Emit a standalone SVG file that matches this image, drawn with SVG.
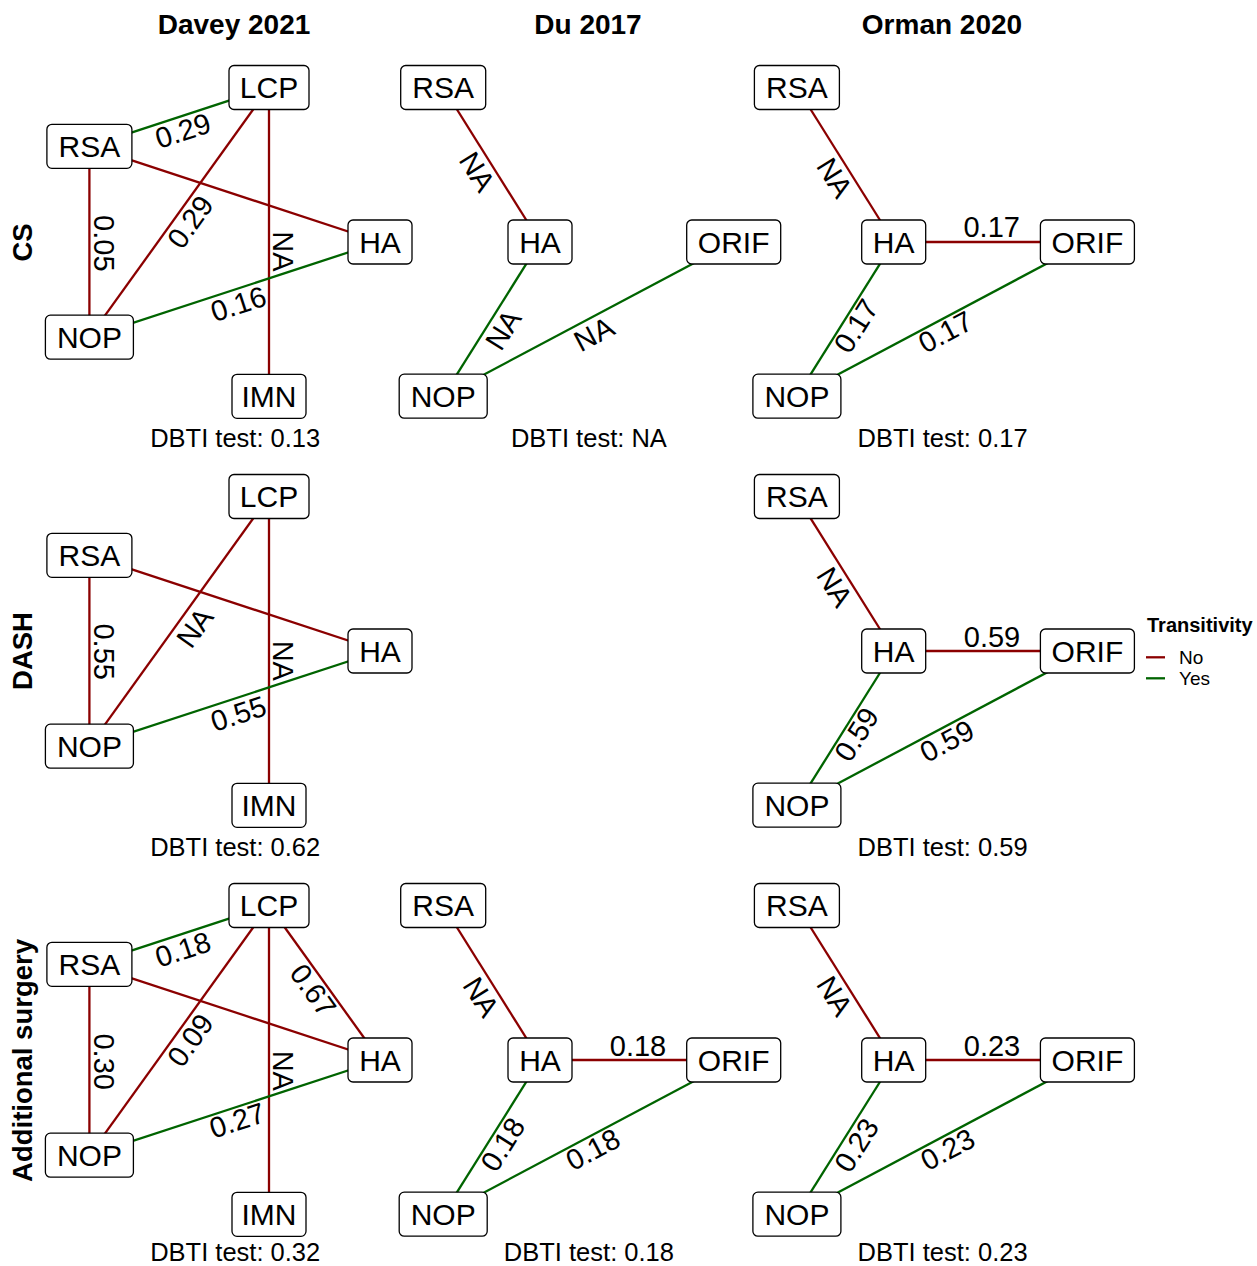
<svg xmlns="http://www.w3.org/2000/svg" width="1257" height="1266" viewBox="0 0 1257 1266">
<style>
text{font-family:"Liberation Sans",Arial,Helvetica,sans-serif;fill:#000}
.title{font-size:28px;font-weight:bold;text-anchor:middle}
.row{font-size:27.5px;font-weight:bold;text-anchor:middle}
.nl{font-size:30px;text-anchor:middle}
.el{font-size:29px;text-anchor:middle}
.db{font-size:25.5px;text-anchor:middle}
.box{fill:#fff;stroke:#000;stroke-width:1.3}
.no{stroke:#8B0000;stroke-width:2.3;fill:none}
.yes{stroke:#006400;stroke-width:2.3;fill:none}
.lt{font-size:20px;font-weight:bold}
.li{font-size:19px}
</style>
<rect x="0" y="0" width="1257" height="1266" fill="#fff"/>

<g id="titles">
<text class="title" x="234" y="34">Davey 2021</text>
<text class="title" x="588" y="34">Du 2017</text>
<text class="title" x="942" y="34">Orman 2020</text>
<text class="row" transform="translate(31.5,242.5) rotate(-90)">CS</text>
<text class="row" transform="translate(31.5,651) rotate(-90)">DASH</text>
<text class="row" transform="translate(31.5,1060.5) rotate(-90)">Additional surgery</text>
</g>

<g id="connectors">
<g id="edges-davey-cs" transform="translate(0,0)">
<line class="yes" x1="89.4" y1="146.3" x2="269" y2="87.5"/>
<line class="no" x1="89.4" y1="146.3" x2="380" y2="242"/>
<line class="no" x1="89.4" y1="146.3" x2="89.4" y2="337.2"/>
<line class="no" x1="269" y1="87.5" x2="89.4" y2="337.2"/>
<line class="no" x1="269" y1="87.5" x2="269" y2="396.3"/>
<line class="yes" x1="89.4" y1="337.2" x2="380" y2="242"/>
<text class="el" transform="translate(182.8,130.3) rotate(-18.1)" y="10.4">0.29</text>
<text class="el" transform="translate(190,221.7) rotate(-54.3)" y="10.4">0.29</text>
<text class="el" transform="translate(104.2,243.3) rotate(90)" y="10.4">0.05</text>
<text class="el" transform="translate(283.5,251.5) rotate(90)" y="10.4">NA</text>
<text class="el" transform="translate(238.3,303.5) rotate(-18.1)" y="10.4">0.16</text>
</g>
<g id="edges-davey-dash" transform="translate(0,409)">
<line class="no" x1="89.4" y1="146.3" x2="380" y2="242"/>
<line class="no" x1="89.4" y1="146.3" x2="89.4" y2="337.2"/>
<line class="no" x1="269" y1="87.5" x2="89.4" y2="337.2"/>
<line class="no" x1="269" y1="87.5" x2="269" y2="396.3"/>
<line class="yes" x1="89.4" y1="337.2" x2="380" y2="242"/>
<text class="el" transform="translate(104.2,242.7) rotate(90)" y="10.4">0.55</text>
<text class="el" transform="translate(194.5,218.5) rotate(-54.3)" y="10.4">NA</text>
<text class="el" transform="translate(283.8,251.8) rotate(90)" y="10.4">NA</text>
<text class="el" transform="translate(238.3,304.3) rotate(-18.1)" y="10.4">0.55</text>
</g>
<g id="edges-davey-as" transform="translate(0,818)">
<line class="yes" x1="89.4" y1="146.3" x2="269" y2="87.5"/>
<line class="no" x1="269" y1="87.5" x2="380" y2="242"/>
<line class="no" x1="89.4" y1="146.3" x2="380" y2="242"/>
<line class="no" x1="89.4" y1="146.3" x2="89.4" y2="337.2"/>
<line class="no" x1="269" y1="87.5" x2="89.4" y2="337.2"/>
<line class="no" x1="269" y1="87.5" x2="269" y2="396.3"/>
<line class="yes" x1="89.4" y1="337.2" x2="380" y2="242"/>
<text class="el" transform="translate(182.8,131.2) rotate(-18.1)" y="10.4">0.18</text>
<text class="el" transform="translate(313.3,172) rotate(54.3)" y="10.4">0.67</text>
<text class="el" transform="translate(190,222) rotate(-54.3)" y="10.4">0.09</text>
<text class="el" transform="translate(104.2,243.7) rotate(90)" y="10.4">0.30</text>
<text class="el" transform="translate(283.8,252.8) rotate(90)" y="10.4">NA</text>
<text class="el" transform="translate(237,302) rotate(-18.1)" y="10.4">0.27</text>
</g>
<g id="edges-du-cs" transform="translate(353.7,0)">
<line class="no" x1="89.5" y1="87.5" x2="186.3" y2="242"/>
<line class="yes" x1="186.3" y1="242" x2="89.5" y2="396.2"/>
<line class="yes" x1="89.5" y1="396.2" x2="380" y2="242"/>
<text class="el" transform="translate(123.8,171.5) rotate(57.9)" y="10.4">NA</text>
<text class="el" transform="translate(149.3,329.7) rotate(-57.9)" y="10.4">NA</text>
<text class="el" transform="translate(240.1,333.8) rotate(-27.9)" y="10.4">NA</text>
</g>
<g id="edges-du-as" transform="translate(353.7,818)">
<line class="no" x1="89.5" y1="87.5" x2="186.3" y2="242"/>
<line class="no" x1="186.3" y1="242" x2="380" y2="242"/>
<line class="yes" x1="186.3" y1="242" x2="89.5" y2="396.2"/>
<line class="yes" x1="89.5" y1="396.2" x2="380" y2="242"/>
<text class="el" transform="translate(127.6,178.7) rotate(57.9)" y="10.4">NA</text>
<text class="el" transform="translate(284.3,227.8)" y="10.4">0.18</text>
<text class="el" transform="translate(148.8,326.2) rotate(-57.9)" y="10.4">0.18</text>
<text class="el" transform="translate(239.1,331.2) rotate(-27.9)" y="10.4">0.18</text>
</g>
<g id="edges-orman-cs" transform="translate(707.4,0)">
<line class="no" x1="89.5" y1="87.5" x2="186.3" y2="242"/>
<line class="no" x1="186.3" y1="242" x2="380" y2="242"/>
<line class="yes" x1="186.3" y1="242" x2="89.5" y2="396.2"/>
<line class="yes" x1="89.5" y1="396.2" x2="380" y2="242"/>
<text class="el" transform="translate(127.6,177.5) rotate(57.9)" y="10.4">NA</text>
<text class="el" transform="translate(284.3,227)" y="10.4">0.17</text>
<text class="el" transform="translate(148.4,325.8) rotate(-57.9)" y="10.4">0.17</text>
<text class="el" transform="translate(237.9,331.7) rotate(-27.9)" y="10.4">0.17</text>
</g>
<g id="edges-orman-dash" transform="translate(707.4,409)">
<line class="no" x1="89.5" y1="87.5" x2="186.3" y2="242"/>
<line class="no" x1="186.3" y1="242" x2="380" y2="242"/>
<line class="yes" x1="186.3" y1="242" x2="89.5" y2="396.2"/>
<line class="yes" x1="89.5" y1="396.2" x2="380" y2="242"/>
<text class="el" transform="translate(127.6,177.7) rotate(57.9)" y="10.4">NA</text>
<text class="el" transform="translate(284.6,227.2)" y="10.4">0.59</text>
<text class="el" transform="translate(148.9,325.2) rotate(-57.9)" y="10.4">0.59</text>
<text class="el" transform="translate(239.3,331.8) rotate(-27.9)" y="10.4">0.59</text>
</g>
<g id="edges-orman-as" transform="translate(707.4,818)">
<line class="no" x1="89.5" y1="87.5" x2="186.3" y2="242"/>
<line class="no" x1="186.3" y1="242" x2="380" y2="242"/>
<line class="yes" x1="186.3" y1="242" x2="89.5" y2="396.2"/>
<line class="yes" x1="89.5" y1="396.2" x2="380" y2="242"/>
<text class="el" transform="translate(127.6,177.8) rotate(57.9)" y="10.4">NA</text>
<text class="el" transform="translate(284.6,227.8)" y="10.4">0.23</text>
<text class="el" transform="translate(148.9,327) rotate(-57.9)" y="10.4">0.23</text>
<text class="el" transform="translate(240.1,331.2) rotate(-27.9)" y="10.4">0.23</text>
</g>
</g>

<g id="nodes">
<g id="panel-davey-cs" transform="translate(0,0)">
<g id="dcs-LCP"><rect class="box" x="229" y="65.5" width="80" height="44" rx="5"/><text class="nl" x="269" y="98.2">LCP</text></g>
<g id="dcs-RSA"><rect class="box" x="46.9" y="124.3" width="85" height="44" rx="5"/><text class="nl" x="89.4" y="157">RSA</text></g>
<g id="dcs-HA"><rect class="box" x="348" y="220" width="64" height="44" rx="5"/><text class="nl" x="380" y="252.7">HA</text></g>
<g id="dcs-NOP"><rect class="box" x="45.4" y="315.2" width="88" height="44" rx="5"/><text class="nl" x="89.4" y="347.9">NOP</text></g>
<g id="dcs-IMN"><rect class="box" x="232" y="374.3" width="74" height="44" rx="5"/><text class="nl" x="269" y="407">IMN</text></g>
<text class="db" x="235.2" y="446.5">DBTI test: 0.13</text>
</g>
<g id="panel-davey-dash" transform="translate(0,409)">
<g id="dd-LCP"><rect class="box" x="229" y="65.5" width="80" height="44" rx="5"/><text class="nl" x="269" y="98.2">LCP</text></g>
<g id="dd-RSA"><rect class="box" x="46.9" y="124.3" width="85" height="44" rx="5"/><text class="nl" x="89.4" y="157">RSA</text></g>
<g id="dd-HA"><rect class="box" x="348" y="220" width="64" height="44" rx="5"/><text class="nl" x="380" y="252.7">HA</text></g>
<g id="dd-NOP"><rect class="box" x="45.4" y="315.2" width="88" height="44" rx="5"/><text class="nl" x="89.4" y="347.9">NOP</text></g>
<g id="dd-IMN"><rect class="box" x="232" y="374.3" width="74" height="44" rx="5"/><text class="nl" x="269" y="407">IMN</text></g>
<text class="db" x="235.2" y="446.5">DBTI test: 0.62</text>
</g>
<g id="panel-davey-as" transform="translate(0,818)">
<g id="das-LCP"><rect class="box" x="229" y="65.5" width="80" height="44" rx="5"/><text class="nl" x="269" y="98.2">LCP</text></g>
<g id="das-RSA"><rect class="box" x="46.9" y="124.3" width="85" height="44" rx="5"/><text class="nl" x="89.4" y="157">RSA</text></g>
<g id="das-HA"><rect class="box" x="348" y="220" width="64" height="44" rx="5"/><text class="nl" x="380" y="252.7">HA</text></g>
<g id="das-NOP"><rect class="box" x="45.4" y="315.2" width="88" height="44" rx="5"/><text class="nl" x="89.4" y="347.9">NOP</text></g>
<g id="das-IMN"><rect class="box" x="232" y="374.3" width="74" height="44" rx="5"/><text class="nl" x="269" y="407">IMN</text></g>
<text class="db" x="235.2" y="442.5">DBTI test: 0.32</text>
</g>
<g id="panel-du-cs" transform="translate(353.7,0)">
<g id="ducs-RSA"><rect class="box" x="47" y="65.5" width="85" height="44" rx="5"/><text class="nl" x="89.5" y="98.2">RSA</text></g>
<g id="ducs-HA"><rect class="box" x="154.3" y="220" width="64" height="44" rx="5"/><text class="nl" x="186.3" y="252.7">HA</text></g>
<g id="ducs-ORIF"><rect class="box" x="333" y="220" width="94" height="44" rx="5"/><text class="nl" x="380" y="252.7">ORIF</text></g>
<g id="ducs-NOP"><rect class="box" x="45.5" y="374.2" width="88" height="44" rx="5"/><text class="nl" x="89.5" y="406.9">NOP</text></g>
<text class="db" x="235.2" y="446.5">DBTI test: NA</text>
</g>
<g id="panel-du-as" transform="translate(353.7,818)">
<g id="duas-RSA"><rect class="box" x="47" y="65.5" width="85" height="44" rx="5"/><text class="nl" x="89.5" y="98.2">RSA</text></g>
<g id="duas-HA"><rect class="box" x="154.3" y="220" width="64" height="44" rx="5"/><text class="nl" x="186.3" y="252.7">HA</text></g>
<g id="duas-ORIF"><rect class="box" x="333" y="220" width="94" height="44" rx="5"/><text class="nl" x="380" y="252.7">ORIF</text></g>
<g id="duas-NOP"><rect class="box" x="45.5" y="374.2" width="88" height="44" rx="5"/><text class="nl" x="89.5" y="406.9">NOP</text></g>
<text class="db" x="235.2" y="442.5">DBTI test: 0.18</text>
</g>
<g id="panel-orman-cs" transform="translate(707.4,0)">
<g id="ocs-RSA"><rect class="box" x="47" y="65.5" width="85" height="44" rx="5"/><text class="nl" x="89.5" y="98.2">RSA</text></g>
<g id="ocs-HA"><rect class="box" x="154.3" y="220" width="64" height="44" rx="5"/><text class="nl" x="186.3" y="252.7">HA</text></g>
<g id="ocs-ORIF"><rect class="box" x="333" y="220" width="94" height="44" rx="5"/><text class="nl" x="380" y="252.7">ORIF</text></g>
<g id="ocs-NOP"><rect class="box" x="45.5" y="374.2" width="88" height="44" rx="5"/><text class="nl" x="89.5" y="406.9">NOP</text></g>
<text class="db" x="235.2" y="446.5">DBTI test: 0.17</text>
</g>
<g id="panel-orman-dash" transform="translate(707.4,409)">
<g id="od-RSA"><rect class="box" x="47" y="65.5" width="85" height="44" rx="5"/><text class="nl" x="89.5" y="98.2">RSA</text></g>
<g id="od-HA"><rect class="box" x="154.3" y="220" width="64" height="44" rx="5"/><text class="nl" x="186.3" y="252.7">HA</text></g>
<g id="od-ORIF"><rect class="box" x="333" y="220" width="94" height="44" rx="5"/><text class="nl" x="380" y="252.7">ORIF</text></g>
<g id="od-NOP"><rect class="box" x="45.5" y="374.2" width="88" height="44" rx="5"/><text class="nl" x="89.5" y="406.9">NOP</text></g>
<text class="db" x="235.2" y="446.5">DBTI test: 0.59</text>
</g>
<g id="panel-orman-as" transform="translate(707.4,818)">
<g id="oas-RSA"><rect class="box" x="47" y="65.5" width="85" height="44" rx="5"/><text class="nl" x="89.5" y="98.2">RSA</text></g>
<g id="oas-HA"><rect class="box" x="154.3" y="220" width="64" height="44" rx="5"/><text class="nl" x="186.3" y="252.7">HA</text></g>
<g id="oas-ORIF"><rect class="box" x="333" y="220" width="94" height="44" rx="5"/><text class="nl" x="380" y="252.7">ORIF</text></g>
<g id="oas-NOP"><rect class="box" x="45.5" y="374.2" width="88" height="44" rx="5"/><text class="nl" x="89.5" y="406.9">NOP</text></g>
<text class="db" x="235.2" y="442.5">DBTI test: 0.23</text>
</g>
</g>

<g id="legend">
<text class="lt" x="1147" y="631.5">Transitivity</text>
<line class="no" x1="1146" y1="657.3" x2="1165" y2="657.3"/>
<line class="yes" x1="1146" y1="678.3" x2="1165" y2="678.3"/>
<text class="li" x="1179" y="664">No</text>
<text class="li" x="1179" y="685">Yes</text>
</g>
</svg>
